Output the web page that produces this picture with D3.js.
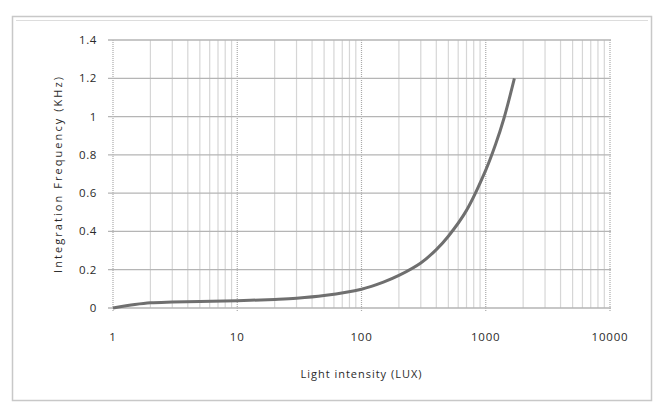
<!DOCTYPE html>
<html>
<head>
<meta charset="utf-8">
<script src="https://cdn.jsdelivr.net/npm/d3@7"></script>
<style>
  body { margin: 0; background: #fff; }
  text { font-family: "Open Sans", "Liberation Sans", sans-serif; fill: #2a2a2a; }
</style>
</head>
<body>
<svg id="chart" width="656" height="407"></svg>
<script>
// data
const lux = [1, 1.5, 2, 3, 5, 10, 20, 30, 50, 100, 150, 200, 300, 400, 500, 700, 1000, 1200, 1400, 1700];
const freq = [0, 0.018, 0.027, 0.031, 0.034, 0.038, 0.045, 0.051, 0.065, 0.098, 0.135, 0.17, 0.235, 0.305, 0.375, 0.51, 0.72, 0.855, 0.99, 1.2];
const xTicks = [1, 10, 100, 1000, 10000];
const yTicks = [0, 0.2, 0.4, 0.6, 0.8, 1, 1.2, 1.4];

const svg = d3.select("#chart");
const plotLeft = 113, plotRight = 610, plotTop = 40, plotBottom = 308;

// outer frame
svg.append("rect")
    .attr("x", 12.5).attr("y", 16.5)
    .attr("width", 639).attr("height", 384)
    .attr("fill", "none")
    .attr("stroke", "#c8c8c8")
    .attr("stroke-width", 1.5);
svg.append("line")
    .attr("x1", 16).attr("x2", 648).attr("y1", 20.5).attr("y2", 20.5)
    .attr("stroke", "#ddd");

const x = d3.scaleLog().domain([1, 10000]).range([plotLeft, plotRight]);
const y = d3.scaleLinear().domain([0, 1.4]).range([plotBottom, plotTop]);

// vertical grid: minor then major
const minor = [];
for (let d = 1; d < 10000; d *= 10) {
    for (let k = 2; k <= 9; k++) minor.push(d * k);
}
svg.append("g").selectAll("line")
    .data(minor)
    .enter().append("line")
    .attr("x1", d => x(d)).attr("x2", d => x(d))
    .attr("y1", plotTop).attr("y2", plotBottom)
    .attr("stroke", "#d6d6d6")
    .attr("stroke-width", 1.2);

svg.append("g").selectAll("line")
    .data(xTicks)
    .enter().append("line")
    .attr("x1", d => x(d)).attr("x2", d => x(d))
    .attr("y1", plotTop).attr("y2", plotBottom + 4)
    .attr("stroke", "#aaa")
    .attr("stroke-width", 1.2)
    .attr("stroke-dasharray", "1,1");

// horizontal grid
svg.append("g").selectAll("line")
    .data(yTicks)
    .enter().append("line")
    .attr("x1", plotLeft - 5).attr("x2", plotRight + 1)
    .attr("y1", d => y(d)).attr("y2", d => y(d))
    .attr("stroke", "#b5b5b5")
    .attr("stroke-width", 1.3);

// tick labels
svg.append("g").selectAll("text")
    .data(yTicks)
    .enter().append("text")
    .attr("x", 97).attr("y", d => y(d) + 4)
    .attr("text-anchor", "end")
    .attr("font-size", 11.5)
    .attr("letter-spacing", 0.6)
    .text(d => d);

svg.append("g").selectAll("text")
    .data(xTicks)
    .enter().append("text")
    .attr("x", d => x(d)).attr("y", 341)
    .attr("text-anchor", "middle")
    .attr("font-size", 11.5)
    .attr("letter-spacing", 0.8)
    .text(d => d);

// axis titles
svg.append("text")
    .attr("x", 361).attr("y", 378)
    .attr("text-anchor", "middle")
    .attr("font-size", 11)
    .attr("textLength", 121)
    .text("Light intensity (LUX)");

svg.append("text")
    .attr("transform", "translate(62,175) rotate(-90)")
    .attr("text-anchor", "middle")
    .attr("font-size", 11)
    .attr("textLength", 196)
    .text("Integration Frequency (KHz)");

// curve
const line = d3.line()
    .x((d, i) => x(lux[i]))
    .y(d => y(d))
    .curve(d3.curveCatmullRom.alpha(0.5));

svg.append("path")
    .datum(freq)
    .attr("d", line)
    .attr("fill", "none")
    .attr("stroke", "#6f6f6f")
    .attr("stroke-width", 3);
</script>
</body>
</html>
